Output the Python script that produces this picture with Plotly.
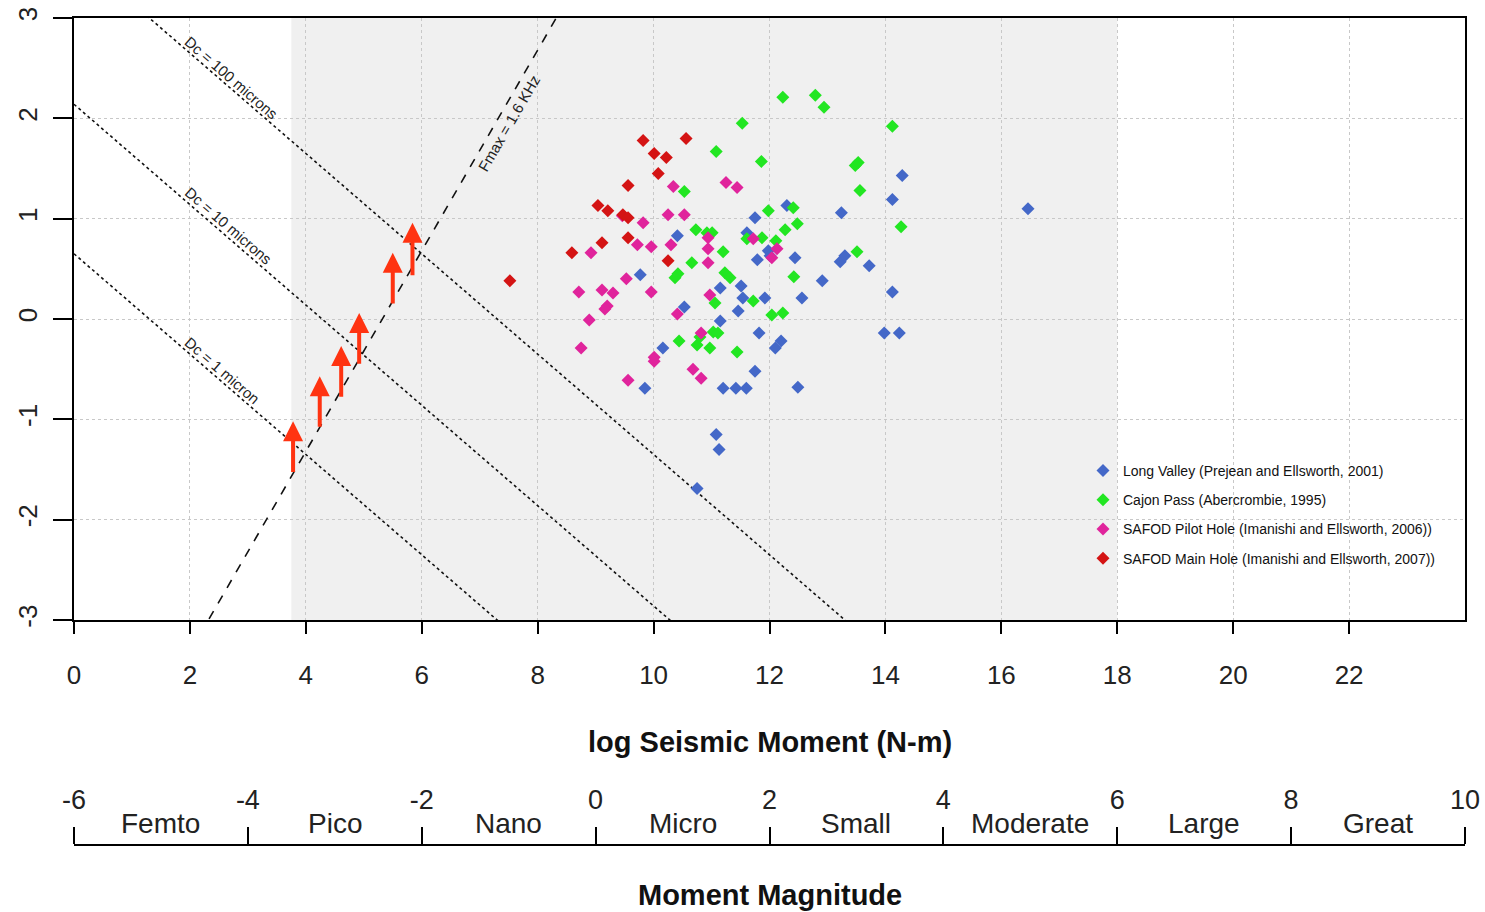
import plotly.graph_objects as go

# ---------------- data ----------------
lv_x = [14.29, 14.12, 13.24, 12.30, 11.75, 10.41, 11.61, 11.98, 12.01, 11.79, 12.44, 13.22, 13.30, 13.72,
        12.91, 11.15, 11.51, 11.54, 11.92, 12.56, 10.53, 11.46, 14.12, 9.77, 11.15, 11.82, 12.10, 12.20,
        10.16, 11.75, 9.85, 11.20, 11.42, 11.60, 12.49, 13.98, 14.24, 11.08, 11.13, 10.75, 16.46]
lv_y = [1.43, 1.19, 1.06, 1.13, 1.01, 0.83, 0.86, 0.68, 0.63, 0.59, 0.61, 0.57, 0.63, 0.53,
        0.38, 0.31, 0.33, 0.21, 0.21, 0.21, 0.12, 0.08, 0.27, 0.44, -0.02, -0.14, -0.29, -0.22,
        -0.29, -0.52, -0.69, -0.69, -0.69, -0.69, -0.68, -0.14, -0.14, -1.15, -1.30, -1.69, 1.10]

cp_x = [12.23, 12.79, 12.94, 11.53, 14.12, 11.08, 11.86, 13.48, 13.53, 13.56, 10.53, 11.98, 12.41, 12.48,
        12.27, 14.27, 10.73, 10.92, 11.01, 11.20, 11.87, 12.11, 10.66, 10.42, 10.37, 11.23, 11.32, 12.42,
        13.51, 11.72, 11.06, 12.04, 12.23, 10.44, 10.75, 10.80, 11.03, 11.11, 10.97, 11.44, 11.61]
cp_y = [2.21, 2.23, 2.11, 1.95, 1.92, 1.67, 1.57, 1.53, 1.56, 1.28, 1.27, 1.08, 1.11, 0.95,
        0.89, 0.92, 0.89, 0.86, 0.86, 0.67, 0.81, 0.78, 0.56, 0.45, 0.41, 0.46, 0.41, 0.42,
        0.67, 0.18, 0.16, 0.04, 0.06, -0.22, -0.26, -0.18, -0.13, -0.14, -0.29, -0.33, 0.80]

sp_x = [10.34, 11.25, 11.44, 10.25, 10.53, 9.82, 9.46, 9.72, 9.96, 10.30, 8.92, 10.94, 10.94, 10.94,
        9.53, 8.71, 9.11, 9.30, 9.20, 9.16, 8.89, 9.96, 10.41, 10.97, 11.72, 12.04, 12.13, 8.75,
        10.01, 10.01, 9.56, 10.68, 10.82, 10.82]
sp_y = [1.32, 1.36, 1.31, 1.04, 1.04, 0.96, 1.03, 0.74, 0.72, 0.74, 0.66, 0.81, 0.70, 0.56,
        0.40, 0.27, 0.29, 0.26, 0.13, 0.10, -0.01, 0.27, 0.05, 0.24, 0.80, 0.61, 0.70, -0.29,
        -0.42, -0.38, -0.61, -0.50, -0.59, -0.14]

sm_x = [9.82, 10.56, 10.01, 10.22, 10.08, 9.56, 9.04, 9.21, 9.47, 9.56, 9.56, 9.11, 8.59, 10.25, 7.52]
sm_y = [1.78, 1.80, 1.65, 1.61, 1.45, 1.33, 1.13, 1.08, 1.04, 1.01, 0.81, 0.76, 0.66, 0.58, 0.38]

series_names = ["Long Valley (Prejean and Ellsworth, 2001)",
                "Cajon Pass (Abercrombie, 1995)",
                "SAFOD Pilot Hole (Imanishi and Ellsworth, 2006))",
                "SAFOD Main Hole (Imanishi and Ellsworth, 2007))"]

# Dc reference lines: y = intercept + slope * x
dc_labels = ["Dc = 100 microns", "Dc = 10 microns", "Dc = 1 micron"]
dc_intercepts = [3.65, 2.14, 0.65]
dc_slope = -0.5
dc_label_x = [2.71, 2.66, 2.56]
dc_label_y = [2.41, 0.93, -0.51]

fmax_label = "Fmax = 1.6 KHz"
fmax_intercept = -5.32
fmax_slope = 1.0
fmax_label_x = 7.50
fmax_label_y = 1.95

# red arrows (lower bounds)
arrow_x = [3.78, 4.24, 4.61, 4.92, 5.50, 5.84]
arrow_tail = [-1.54, -1.09, -0.79, -0.46, 0.14, 0.42]
arrow_tip = [-1.02, -0.57, -0.27, 0.06, 0.66, 0.96]

shade_x = [3.75, 18.0]
x_range = [0, 24]
y_range = [-3, 3]
x_ticks = list(range(0, 23, 2))
x_ticktext = ["0", "2", "4", "6", "8", "10", "12", "14", "16", "18", "20", "22"]
y_ticks = [-3, -2, -1, 0, 1, 2, 3]
y_ticktext = ["-3", "-2", "-1", "0", "1", "2", "3"]

mag_range = [-6, 10]
mag_ticks = [-6, -4, -2, 0, 2, 4, 6, 8, 10]
mag_ticktext = ["-6", "-4", "-2", "0", "2", "4", "6", "8", "10"]
mag_class_x = [-5, -3, -1, 1, 3, 5, 7, 9]
mag_classes = ["Femto", "Pico", "Nano", "Micro", "Small", "Moderate", "Large", "Great"]

colors = ["#4468C8", "#22E622", "#E0249C", "#D41414"]
arrow_color = "#FF3311"

FONT = "Liberation Sans, Arial, sans-serif"

# ---------------- figure ----------------
fig = go.Figure()

xs_line = [x_range[0], x_range[1]]
for a in dc_intercepts:
    fig.add_trace(go.Scatter(x=xs_line, y=[a + dc_slope * xx for xx in xs_line], mode="lines",
                             line=dict(color="#111111", width=1.6, dash="dot"),
                             showlegend=False, hoverinfo="skip"))
fig.add_trace(go.Scatter(x=xs_line, y=[fmax_intercept + fmax_slope * xx for xx in xs_line], mode="lines",
                         line=dict(color="#111111", width=1.6, dash="dash"),
                         showlegend=False, hoverinfo="skip"))

for i, (xx, yy) in enumerate([(lv_x, lv_y), (cp_x, cp_y), (sp_x, sp_y), (sm_x, sm_y)]):
    fig.add_trace(go.Scatter(x=xx, y=yy, mode="markers", name=series_names[i],
                             legendgroup=f"g{i}",
                             marker=dict(symbol="diamond", size=10, color=colors[i],
                                         line=dict(width=0))))

# dummy trace so the magnitude axis is drawn
fig.add_trace(go.Scatter(x=mag_range, y=[0, 0], xaxis="x2", yaxis="y", mode="markers",
                         marker=dict(opacity=0, size=1), showlegend=False, hoverinfo="skip"))

W, H = 1485, 912
ml, mr, mt, mb = 74, 20, 18, 0
ph = H - mt - mb
plot_bottom_px = 620
y_dom0 = (H - plot_bottom_px) / ph

def paper_y(px):
    return (H - px) / ph

fig.add_shape(type="rect", xref="x", yref="y domain", x0=shade_x[0], x1=shade_x[1], y0=0, y1=1,
              fillcolor="#F0F0F0", line=dict(width=0), layer="below")

annotations = []
for i, lab in enumerate(dc_labels):
    annotations.append(dict(x=dc_label_x[i], y=dc_label_y[i], xref="x", yref="y", text=lab,
                            showarrow=False, textangle=40.9,
                            font=dict(family=FONT, size=15, color="#222222")))
annotations.append(dict(x=fmax_label_x, y=fmax_label_y, xref="x", yref="y", text=fmax_label,
                        showarrow=False, textangle=-60,
                        font=dict(family=FONT, size=15, color="#222222")))
for xx, t0, t1 in zip(arrow_x, arrow_tail, arrow_tip):
    annotations.append(dict(x=xx, y=t1, ax=xx, ay=t0, xref="x", yref="y", axref="x", ayref="y",
                            text="", showarrow=True, arrowhead=2, arrowsize=1.0, arrowwidth=4,
                            arrowcolor=arrow_color, standoff=0))
for xx, lab in zip(mag_class_x, mag_classes):
    annotations.append(dict(x=xx, y=paper_y(823), xref="x2", yref="paper", text=lab, showarrow=False,
                            font=dict(family=FONT, size=28, color="#222222"), yanchor="middle"))
annotations.append(dict(x=0.5, y=paper_y(742), xref="paper", yref="paper",
                        text="<b>log Seismic Moment (N-m)</b>", showarrow=False, yanchor="middle",
                        font=dict(family=FONT, size=29, color="#111111")))
annotations.append(dict(x=0.5, y=paper_y(895), xref="paper", yref="paper",
                        text="<b>Moment Magnitude</b>", showarrow=False, yanchor="middle",
                        font=dict(family=FONT, size=29, color="#111111")))

fig.update_layout(
    width=W, height=H,
    margin=dict(l=ml, r=mr, t=mt, b=mb, autoexpand=False),
    paper_bgcolor="white", plot_bgcolor="white",
    font=dict(family=FONT, color="#222222"),
    xaxis=dict(range=x_range, tickvals=x_ticks, ticktext=x_ticktext, showgrid=True, gridcolor="#C8C8C8",
               griddash="dot", gridwidth=1, zeroline=False, showline=True, linecolor="black", linewidth=2,
               mirror=True, ticks="outside", ticklen=12, tickwidth=2, tickcolor="black",
               tickfont=dict(family=FONT, size=26, color="#222222"), ticklabelstandoff=19),
    yaxis=dict(range=y_range, tickvals=y_ticks, ticktext=y_ticktext, domain=[y_dom0, 1], showgrid=True,
               gridcolor="#C8C8C8", griddash="dot", gridwidth=1, zeroline=False, showline=True,
               linecolor="black", linewidth=2, mirror=True, ticks="outside", ticklen=19, tickwidth=2,
               tickcolor="black", tickangle=-90,
               tickfont=dict(family=FONT, size=26, color="#222222"), ticklabelstandoff=6),
    xaxis2=dict(range=mag_range, tickvals=mag_ticks, ticktext=mag_ticktext, overlaying="x", anchor="free",
                position=paper_y(845), side="top", showgrid=False, zeroline=False,
                showline=True, linecolor="black", linewidth=2, ticks="outside", ticklen=17,
                tickwidth=2, tickcolor="black",
                tickfont=dict(family=FONT, size=27, color="#222222"), ticklabelstandoff=7),
    legend=dict(x=(1083 - ml) / (W - ml - mr), y=paper_y(455), xanchor="left", yanchor="top",
                bgcolor="rgba(0,0,0,0)", borderwidth=0, tracegroupgap=8,
                font=dict(family=FONT, size=14, color="#111111")),
    annotations=annotations,
    showlegend=True,
)

fig.write_html("out.html")
